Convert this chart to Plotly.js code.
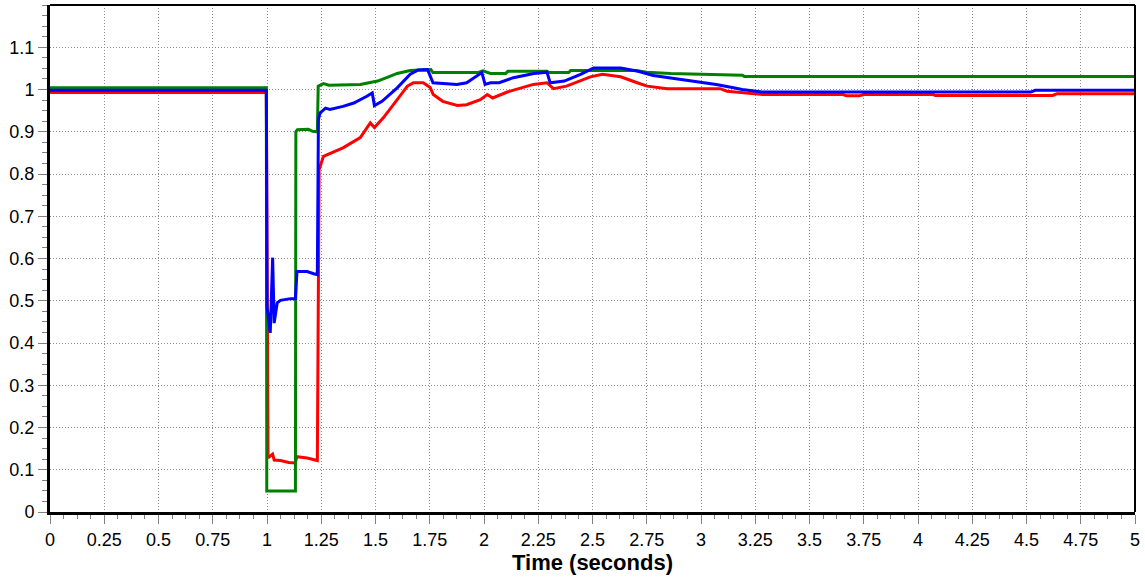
<!DOCTYPE html>
<html>
<head>
<meta charset="utf-8">
<script src="https://cdn.plot.ly/plotly-3.0.1.min.js"></script>
<style>html,body{margin:0;padding:0;background:#fff;}#chart{width:1145px;height:577px;}</style>
</head>
<body>
<div id="chart"></div>
<script>
// Time (s) and per-unit values
const timeRed = [0, 0.997, 1.005, 1.026, 1.033, 1.062, 1.1, 1.122, 1.13, 1.138, 1.185, 1.232, 1.235, 1.24, 1.26, 1.35, 1.43, 1.476, 1.495, 1.536, 1.6, 1.647, 1.675, 1.72, 1.752, 1.766, 1.81, 1.877, 1.92, 1.983, 2.015, 2.04, 2.107, 2.227, 2.29, 2.32, 2.38, 2.49, 2.545, 2.63, 2.706, 2.752, 2.844, 3.088, 3.12, 3.194, 3.285, 3.655, 3.67, 3.73, 3.75, 4.07, 4.08, 4.62, 4.64, 5];
const valueRed = [0.993, 0.993, 0.128, 0.137, 0.123, 0.122, 0.117, 0.116, 0.116, 0.131, 0.128, 0.122, 0.562, 0.81, 0.842, 0.862, 0.886, 0.921, 0.91, 0.933, 0.976, 1.008, 1.016, 1.016, 1.005, 0.988, 0.972, 0.962, 0.964, 0.976, 0.988, 0.98, 0.994, 1.012, 1.016, 1.002, 1.008, 1.03, 1.036, 1.03, 1.016, 1.008, 1.002, 1.002, 0.996, 0.992, 0.988, 0.988, 0.985, 0.985, 0.988, 0.988, 0.986, 0.986, 0.99, 0.99];

const timeGreen = [0, 0.997, 0.999, 1.131, 1.133, 1.14, 1.19, 1.21, 1.232, 1.236, 1.26, 1.285, 1.43, 1.47, 1.51, 1.56, 1.6, 1.66, 1.755, 1.765, 1.97, 1.995, 2.03, 2.1, 2.11, 2.29, 2.3, 2.39, 2.4, 2.7, 2.75, 2.86, 3.04, 3.19, 3.2, 5];
const valueGreen = [1.004, 1.004, 0.05, 0.05, 0.9, 0.905, 0.906, 0.901, 0.9, 1.008, 1.014, 1.01, 1.012, 1.016, 1.02, 1.03, 1.038, 1.045, 1.047, 1.04, 1.04, 1.044, 1.038, 1.038, 1.043, 1.043, 1.04, 1.04, 1.045, 1.045, 1.041, 1.038, 1.036, 1.034, 1.031, 1.031];

const timeBlue = [0, 0.997, 1.0, 1.015, 1.026, 1.033, 1.047, 1.062, 1.108, 1.131, 1.138, 1.185, 1.215, 1.232, 1.237, 1.245, 1.27, 1.29, 1.35, 1.4, 1.46, 1.485, 1.495, 1.53, 1.6, 1.66, 1.695, 1.74, 1.765, 1.875, 1.92, 1.99, 2.005, 2.03, 2.07, 2.135, 2.23, 2.29, 2.305, 2.37, 2.445, 2.505, 2.63, 2.71, 2.78, 2.9, 3.03, 3.07, 3.15, 3.19, 3.28, 4.52, 4.54, 5];
const valueBlue = [0.998, 0.998, 0.486, 0.424, 0.602, 0.447, 0.495, 0.501, 0.505, 0.505, 0.569, 0.569, 0.564, 0.562, 0.929, 0.945, 0.956, 0.953, 0.96, 0.968, 0.984, 0.992, 0.962, 0.972, 1.004, 1.036, 1.046, 1.047, 1.016, 1.012, 1.016, 1.04, 1.012, 1.016, 1.016, 1.028, 1.038, 1.041, 1.016, 1.02, 1.036, 1.051, 1.051, 1.043, 1.033, 1.025, 1.016, 1.012, 1.004, 1.0, 0.994, 0.994, 0.998, 0.998];

const xTickVals = [0, 0.25, 0.5, 0.75, 1, 1.25, 1.5, 1.75, 2, 2.25, 2.5, 2.75, 3, 3.25, 3.5, 3.75, 4, 4.25, 4.5, 4.75, 5];
const xTickText = ['0', '0.25', '0.5', '0.75', '1', '1.25', '1.5', '1.75', '2', '2.25', '2.5', '2.75', '3', '3.25', '3.5', '3.75', '4', '4.25', '4.5', '4.75', '5'];
const yTickVals = [0, 0.1, 0.2, 0.3, 0.4, 0.5, 0.6, 0.7, 0.8, 0.9, 1, 1.1];
const yTickText = ['0', '0.1', '0.2', '0.3', '0.4', '0.5', '0.6', '0.7', '0.8', '0.9', '1', '1.1'];
const xTitle = 'Time (seconds)';

const font = 'Liberation Sans, Arial, sans-serif';
const traces = [
  {x: timeRed, y: valueRed, mode: 'lines', line: {color: '#ff0000', width: 3}, hoverinfo: 'skip'},
  {x: timeGreen, y: valueGreen, mode: 'lines', line: {color: '#008000', width: 3}, hoverinfo: 'skip'},
  {x: timeBlue, y: valueBlue, mode: 'lines', line: {color: '#0000ff', width: 3}, hoverinfo: 'skip'}
];
const grid = {gridcolor: '#8c8c8c', gridwidth: 1, griddash: '1px,2px'};
const layout = {
  width: 1145, height: 577,
  margin: {l: 50, r: 10, t: 5, b: 65},
  paper_bgcolor: '#ffffff', plot_bgcolor: '#ffffff',
  showlegend: false,
  font: {family: font, color: '#000', size: 18},
  xaxis: Object.assign({
    range: [0, 5], tickmode: 'array', tickvals: xTickVals, ticktext: xTickText,
    showline: true, linecolor: '#000', linewidth: 3, zeroline: false,
    ticks: 'outside', ticklen: 9, tickcolor: '#808080', tickwidth: 1,
    tickfont: {family: font, size: 18, color: '#000'},
    minor: {tickmode: 'linear', tick0: 0, dtick: 0.0625, ticks: 'outside', ticklen: 4, tickcolor: '#808080', showgrid: false},
    title: {text: '<b>' + xTitle + '</b>', font: {family: font, size: 22, color: '#000'}, standoff: 4}
  }, grid),
  yaxis: Object.assign({
    range: [0, 1.2], tickmode: 'array', tickvals: yTickVals, ticktext: yTickText,
    showline: true, linecolor: '#000', linewidth: 3, zeroline: false,
    ticks: 'outside', ticklen: 9, tickcolor: '#808080', tickwidth: 1,
    tickfont: {family: font, size: 18, color: '#000'},
    minor: {tickmode: 'linear', tick0: 0, dtick: 0.025, ticks: 'outside', ticklen: 5, tickcolor: '#808080', showgrid: false}
  }, grid),
  shapes: [
    {type: 'line', xref: 'paper', yref: 'paper', x0: 0, x1: 1, y0: 1, y1: 1, line: {color: '#000', width: 2}},
    {type: 'line', xref: 'paper', yref: 'paper', x0: 1, x1: 1, y0: 0, y1: 1, line: {color: '#000', width: 2}}
  ]
};
Plotly.newPlot('chart', traces, layout, {staticPlot: true, displayModeBar: false});
</script>
</body>
</html>
